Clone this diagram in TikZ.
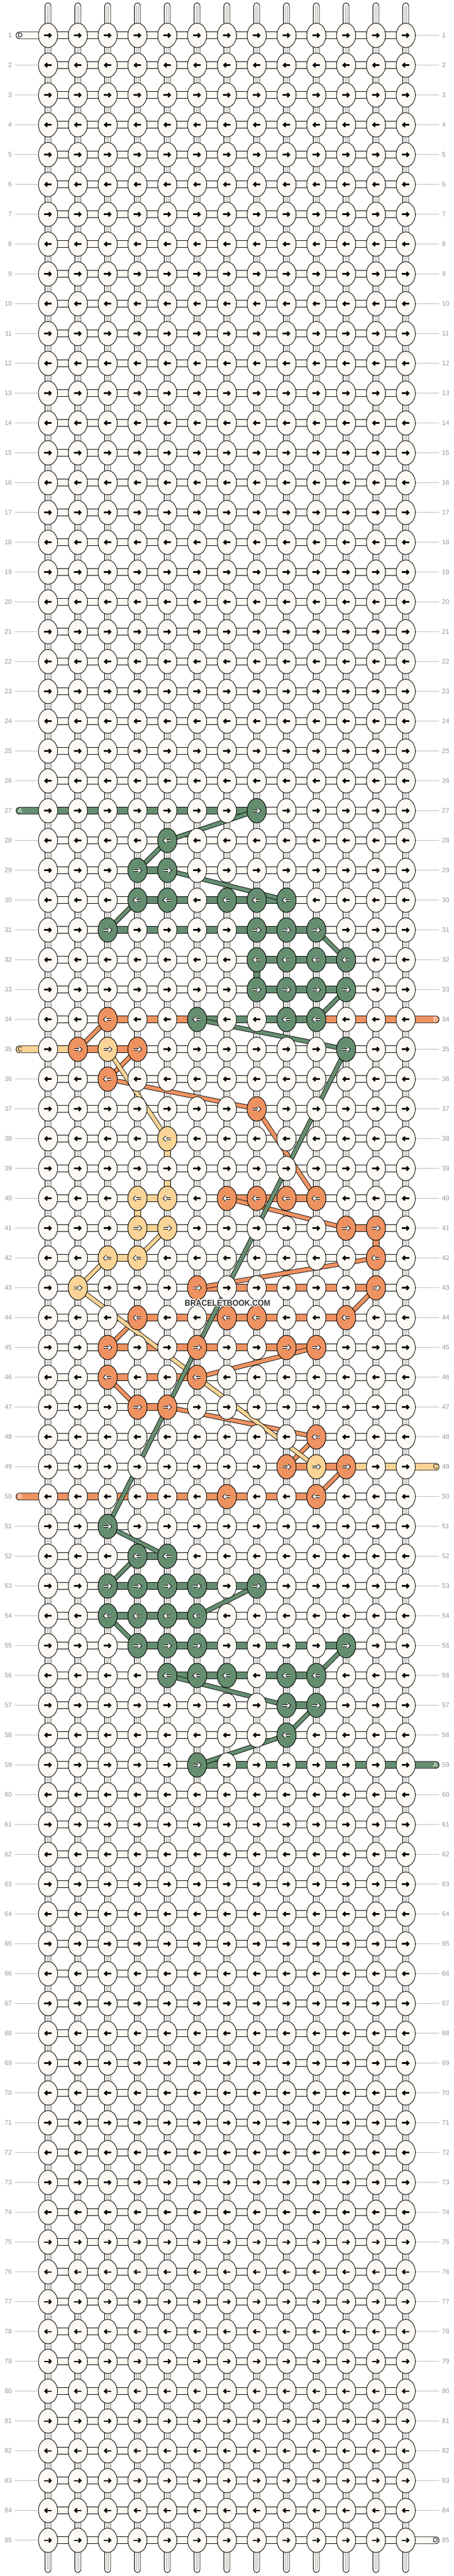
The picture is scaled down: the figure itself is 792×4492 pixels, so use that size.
\documentclass[tikz,border=0pt]{standalone}
\usepackage{fontspec}
\usepackage{graphicx}
\setmainfont{Liberation Sans}
\usetikzlibrary{shapes.geometric}
\definecolor{cream}{HTML}{FDFAF4}
\definecolor{kG}{HTML}{658E70}
\definecolor{kO}{HTML}{EF9261}
\definecolor{kY}{HTML}{F9D496}
\definecolor{labgrey}{HTML}{9A9A9A}
\definecolor{linegrey}{HTML}{BDBDBD}
\definecolor{inlgrey}{HTML}{A8A8A8}
\definecolor{wmark}{HTML}{333333}
\newcommand\labfont{\fontsize{11.5}{12}\selectfont}
\newcommand\hsegm[4]{\foreach \cc in {#2,...,#3}{\pgfmathtruncatemacro\ccn{\cc+1}\draw[tube,fill=#4] ([yshift=6pt]p-#1-\cc) rectangle ([yshift=-6pt]p-#1-\ccn);}}
\newcommand\vsegm[3]{\pgfmathtruncatemacro\rrn{#1+1}\draw[tube,fill=#3] ([xshift=-5.2pt]p-#1-#2) rectangle ([xshift=5.2pt]p-\rrn-#2);}
\newcommand\diagm[5]{\draw[diag=#1] (p-#2-#3) -- (p-#4-#5);}
\newcommand\tubeLm[4]{\draw[tube,fill=#2,rounded corners=6pt] ([yshift=6pt]le-#1) rectangle ([yshift=-6pt]p-#1-1);
  \node[anchor=west,inner sep=0pt,text=#4,font=\labfont] (lt-#1) at ([xshift=2.8pt]le-#1) {#3};}
\newcommand\tubeRm[4]{\draw[tube,fill=#2,rounded corners=6pt] ([yshift=6pt]p-#1-13) rectangle ([yshift=-6pt]re-#1);
  \node[anchor=east,inner sep=0pt,text=#4,font=\labfont] (rt-#1) at ([xshift=-2.2pt]re-#1) {#3};}
\begin{document}
\begin{tikzpicture}[x=1pt,y=-1pt,
  tube/.style={draw=black,line width=0.9pt},
  inl/.style={draw=inlgrey,line width=0.6pt},
  gl/.style={draw=linegrey,line width=0.8pt},
  num/.style={text=labgrey,font=\labfont,inner sep=0pt},
  diag/.style={draw=black,line width=0.9pt,double=#1,double distance=6.3pt},
  knotn/.style={shape=ellipse,draw=black,line width=0.9pt,fill=cream,minimum width=33.4pt,minimum height=42.4pt,inner sep=0pt},
  arr/.pic={
    \draw[line width=2.5pt] (-6.5,0) -- (4.6,0);
    \draw[line width=2.5pt,line join=miter,miter limit=10] (1.4,-3.6) -- (5.1,0) -- (1.4,3.6);
  },
  warr/.pic={
    \draw[line width=4.3pt,line cap=square] (-6.5,0) -- (4.6,0);
    \draw[line width=4.3pt,line join=miter,miter limit=10,line cap=square] (1.4,-3.6) -- (5.1,0) -- (1.4,3.6);
    \draw[white,line width=2.2pt] (-6.5,0) -- (4.6,0);
    \draw[white,line width=2.2pt,line join=miter,miter limit=10] (1.4,-3.6) -- (5.1,0) -- (1.4,3.6);
  }
]
\useasboundingbox (0,0) rectangle (792,4492);
\fill[white] (0,0) rectangle (792,4492);
% coordinates
\foreach \r in {1,...,85}{
  \pgfmathsetmacro\yy{9.7+52*\r}
  \foreach \c in {1,...,13}{\coordinate (p-\r-\c) at ({31.8+52*\c},\yy);}
  \coordinate (le-\r) at (28,\yy);
  \coordinate (re-\r) at (766,\yy);
  \coordinate (gl-\r) at (26,\yy);
  \coordinate (ln-\r) at (21,\yy);
  \coordinate (rn-\r) at (771,\yy);
}
\foreach \c in {1,...,13}{
  \coordinate (ct-\c) at ({31.8+52*\c},5);
  \coordinate (cb-\c) at ({31.8+52*\c},4486);
}
% vertical strings
\foreach \c in {1,...,13}{
  \draw[tube,fill=cream,rounded corners=5.2pt] ([xshift=-5.2pt]ct-\c) rectangle ([xshift=5.2pt]cb-\c);
  \draw[inl] ([xshift=-1.8pt,yshift=-5pt]ct-\c) -- ([xshift=-1.8pt,yshift=5pt]cb-\c);
  \draw[inl] ([xshift=1.8pt,yshift=-5pt]ct-\c) -- ([xshift=1.8pt,yshift=5pt]cb-\c);
}
% horizontal rows
\foreach \r in {1,...,85}{\draw[tube,fill=cream] ([yshift=6pt]p-\r-1) rectangle ([yshift=-6pt]p-\r-13);}
% row numbers and guide lines
\foreach \r in {1,...,85}{
  \pgfmathtruncatemacro\sl{(\r==1)+(\r==27)+(\r==35)+(\r==50)}
  \pgfmathtruncatemacro\sr{(\r==34)+(\r==49)+(\r==59)+(\r==85)}
  \ifnum\sl=0 \draw[gl] (gl-\r) -- (p-\r-1);\fi
  \ifnum\sr=0 \draw[gl] (p-\r-13) -- (re-\r);\fi
  \node[num,anchor=east] (nl-\r) at (ln-\r) {\r};
  \node[num,anchor=west] (nr-\r) at (rn-\r) {\r};
}
% coloured vertical pieces
\vsegm{32}{8}{kG}
\vsegm{38}{5}{kY}
\vsegm{39}{5}{kY}
\vsegm{40}{4}{kY}
\vsegm{41}{12}{kO}
% coloured horizontal pieces
\hsegm{27}{1}{7}{kG}
\hsegm{29}{4}{4}{kG}
\hsegm{30}{4}{8}{kG}
\hsegm{31}{3}{9}{kG}
\hsegm{32}{8}{10}{kG}
\hsegm{33}{8}{10}{kG}
\hsegm{34}{6}{9}{kG}
\hsegm{52}{4}{4}{kG}
\hsegm{53}{3}{7}{kG}
\hsegm{54}{3}{5}{kG}
\hsegm{55}{4}{10}{kG}
\hsegm{56}{5}{9}{kG}
\hsegm{57}{9}{9}{kG}
\hsegm{59}{6}{12}{kG}
\hsegm{34}{3}{5}{kO}
\hsegm{34}{10}{12}{kO}
\hsegm{35}{2}{3}{kO}
\hsegm{40}{7}{9}{kO}
\hsegm{41}{11}{11}{kO}
\hsegm{43}{6}{11}{kO}
\hsegm{44}{4}{10}{kO}
\hsegm{45}{3}{9}{kO}
\hsegm{46}{3}{5}{kO}
\hsegm{47}{4}{4}{kO}
\hsegm{49}{9}{10}{kO}
\hsegm{50}{1}{9}{kO}
\hsegm{35}{1}{1}{kY}
\hsegm{40}{4}{4}{kY}
\hsegm{41}{4}{4}{kY}
\hsegm{42}{3}{3}{kY}
\hsegm{49}{11}{12}{kY}
% string ends
\tubeLm{1}{cream}{D}{black}
\tubeLm{27}{kG}{A}{white}
\tubeLm{35}{kY}{C}{black!85}
\tubeLm{50}{kO}{B}{white}
\tubeRm{34}{kO}{B}{white}
\tubeRm{49}{kY}{C}{black!85}
\tubeRm{59}{kG}{A}{white}
\tubeRm{85}{cream}{D}{black}
% diagonal strands: orange
\diagm{kO}{34}{3}{35}{2}
\diagm{kO}{35}{4}{36}{3}
\diagm{kO}{36}{3}{37}{8}
\diagm{kO}{37}{8}{40}{10}
\diagm{kO}{40}{7}{41}{11}
\diagm{kO}{42}{12}{43}{6}
\diagm{kO}{43}{12}{44}{11}
\diagm{kO}{44}{4}{45}{3}
\diagm{kO}{45}{10}{46}{6}
\diagm{kO}{46}{3}{47}{4}
\diagm{kO}{47}{5}{48}{10}
\diagm{kO}{48}{10}{49}{9}
\diagm{kO}{49}{11}{50}{10}
% yellow
\diagm{kY}{35}{3}{38}{5}
\diagm{kY}{41}{5}{42}{4}
\diagm{kY}{42}{3}{43}{2}
\diagm{kY}{43}{2}{49}{10}
% green
\diagm{kG}{27}{8}{28}{5}
\diagm{kG}{28}{5}{29}{4}
\diagm{kG}{29}{5}{30}{9}
\diagm{kG}{30}{4}{31}{3}
\diagm{kG}{31}{10}{32}{11}
\diagm{kG}{33}{11}{34}{10}
\diagm{kG}{34}{6}{35}{11}
\diagm{kG}{35}{11}{51}{3}
\diagm{kG}{51}{3}{52}{5}
\diagm{kG}{52}{4}{53}{3}
\diagm{kG}{53}{8}{54}{6}
\diagm{kG}{54}{3}{55}{4}
\diagm{kG}{55}{11}{56}{10}
\diagm{kG}{56}{5}{57}{9}
\diagm{kG}{57}{10}{58}{9}
\diagm{kG}{58}{9}{59}{6}
% knots
\foreach \r in {1,...,85}{
  \ifodd\r\relax\def\sgn{1}\else\def\sgn{-1}\fi
  \foreach \c in {1,...,13}{
    \node[knotn] (k-\r-\c) at (p-\r-\c) {};
    \pic[xscale=\sgn] at (p-\r-\c) {arr};
  }
}
% coloured knots
\foreach \r/\c/\col in {27/8/kG,28/5/kG,29/4/kG,29/5/kG,30/4/kG,30/5/kG,30/7/kG,30/8/kG,30/9/kG,
  31/3/kG,31/8/kG,31/9/kG,31/10/kG,32/8/kG,32/9/kG,32/10/kG,32/11/kG,33/8/kG,33/9/kG,33/10/kG,33/11/kG,
  34/6/kG,34/9/kG,34/10/kG,35/11/kG,51/3/kG,52/4/kG,52/5/kG,53/3/kG,53/4/kG,53/5/kG,53/6/kG,53/8/kG,
  54/3/kG,54/4/kG,54/5/kG,54/6/kG,55/4/kG,55/5/kG,55/6/kG,55/11/kG,56/5/kG,56/6/kG,56/7/kG,56/9/kG,
  56/10/kG,57/9/kG,57/10/kG,58/9/kG,59/6/kG,
  34/3/kO,35/2/kO,35/4/kO,36/3/kO,37/8/kO,40/7/kO,40/8/kO,40/9/kO,40/10/kO,41/11/kO,41/12/kO,42/12/kO,
  43/6/kO,43/12/kO,44/4/kO,44/7/kO,44/8/kO,44/11/kO,45/3/kO,45/6/kO,45/9/kO,45/10/kO,46/3/kO,46/6/kO,
  47/4/kO,47/5/kO,48/10/kO,49/9/kO,49/11/kO,50/7/kO,50/10/kO,
  35/3/kY,38/5/kY,40/4/kY,40/5/kY,41/4/kY,41/5/kY,42/3/kY,42/4/kY,43/2/kY,49/10/kY}{
  \ifodd\r\relax\def\sgn{1}\else\def\sgn{-1}\fi
  \node[knotn,fill=\col] (kc-\r-\c) at (p-\r-\c) {};
  \pic[xscale=\sgn] at (p-\r-\c) {warr};
}
% watermark
\coordinate (wmc) at (397,2272);
\foreach \dx/\dy [count=\i] in {1.2/0,-1.2/0,0/1.2,0/-1.2,0.9/0.9,-0.9/0.9,0.9/-0.9,-0.9/-0.9}{
  \node[text=white,inner sep=0pt] (wmh-\i) at ([shift={(\dx,\dy)}]wmc) {\scalebox{0.9}[1]{\fontsize{15}{15}\selectfont\bfseries BRACELETBOOK.COM}};
}
\node[text=wmark,inner sep=0pt] (wm) at (wmc) {\scalebox{0.9}[1]{\fontsize{15}{15}\selectfont\bfseries BRACELETBOOK.COM}};
\end{tikzpicture}
\end{document}
